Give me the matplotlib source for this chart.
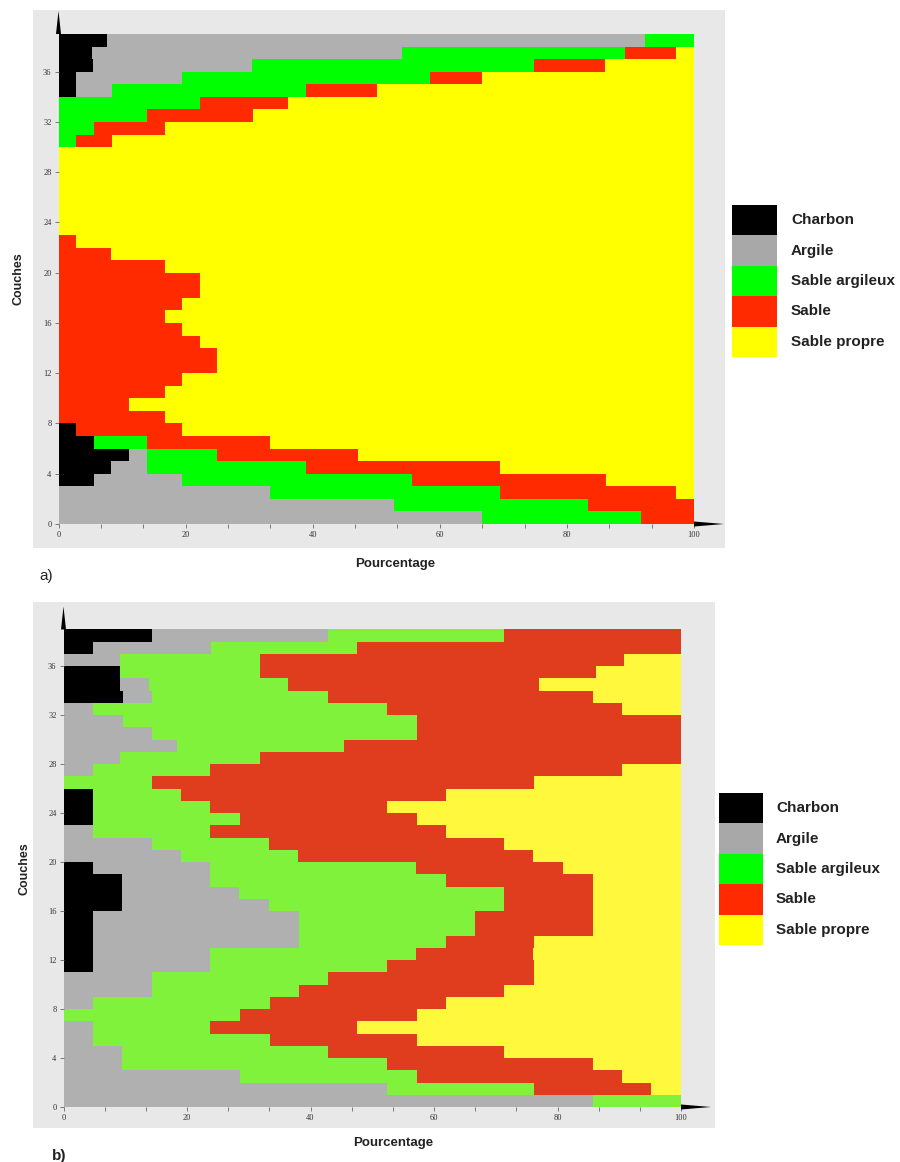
import matplotlib
matplotlib.use("Agg")
import matplotlib.pyplot as plt
from matplotlib.patches import Rectangle, Polygon
from matplotlib.ticker import MultipleLocator

W, H = 900, 1162

layers = list(range(39))
categories = ["Charbon", "Argile", "Sable argileux", "Sable", "Sable propre"]
y_ticks = [0, 4, 8, 12, 16, 20, 24, 28, 32, 36]
x_ticks = [0, 20, 40, 60, 80, 100]

# ---- panel a) : percentages per layer (layer 0 at bottom) ----
a_charbon = [0, 0, 0, 5.6, 8.3, 11.1, 5.6, 2.8,
             0, 0, 0, 0, 0, 0, 0, 0, 0, 0, 0, 0, 0, 0, 0, 0, 0, 0,
             0, 0, 0, 0, 0, 0, 0, 0,
             2.8, 2.8, 5.5, 5.2, 7.6]
a_argile = [66.7, 52.8, 33.3, 13.9, 5.6, 2.8, 0, 0,
            0, 0, 0, 0, 0, 0, 0, 0, 0, 0, 0, 0, 0, 0, 0, 0, 0, 0,
            0, 0, 0, 0, 0, 0, 0, 0,
            5.6, 16.7, 25.0, 48.8, 84.7]
a_sable_arg = [25.0, 30.5, 36.1, 36.1, 25.0, 11.1, 8.3, 0,
               0, 0, 0, 0, 0, 0, 0, 0, 0, 0, 0, 0, 0, 0, 0, 0, 0, 0,
               0, 0, 0, 0, 2.8, 5.6, 13.9, 22.2,
               30.6, 38.9, 44.4, 35.1, 7.7]
a_sable = [8.3, 16.7, 27.8, 30.6, 30.6, 22.2, 19.4, 16.7,
           16.7, 11.1, 16.7, 19.4, 25.0, 25.0, 22.2, 19.4, 16.7, 19.4,
           22.2, 22.2, 16.7, 8.3, 2.8,
           0, 0, 0, 0, 0, 0, 0,
           5.6, 11.1, 16.7, 13.9, 11.1, 8.3, 11.1, 8.1, 0]
a_propre = [0, 0, 2.8, 13.9, 30.6, 52.8, 66.7, 80.6,
            83.3, 88.9, 83.3, 80.6, 75.0, 75.0, 77.8, 80.6, 83.3, 80.6,
            77.8, 77.8, 83.3, 91.7, 97.2,
            100, 100, 100, 100, 100, 100, 100,
            91.7, 83.3, 69.4, 63.9, 50.0, 33.3, 14.0, 2.8, 0]

# ---- panel b) ----
b_charbon = [0, 0, 0, 0, 0, 0, 0, 0, 0, 0, 0,
             4.8, 4.8, 4.8, 4.8, 4.8, 9.5, 9.5, 9.5, 4.8,
             0, 0, 0, 4.8, 4.8, 4.8,
             0, 0, 0, 0, 0, 0, 0,
             9.6, 9.2, 9.2, 0, 4.8, 14.3]
b_argile = [85.7, 52.4, 28.6, 9.5, 9.5, 4.8, 4.8, 0, 4.8, 14.3, 14.3,
            19.0, 19.0, 33.3, 33.3, 33.3, 23.8, 19.0, 14.3, 19.0,
            19.0, 14.3, 4.8, 0, 0, 0,
            0, 4.8, 9.2, 18.3, 14.3, 9.6, 4.8,
            4.7, 4.7, 0, 9.2, 19.1, 28.5]
b_sable_arg = [14.3, 23.8, 28.6, 42.9, 33.3, 28.6, 19.0, 28.6, 28.6, 23.8, 28.6,
               28.6, 33.3, 23.8, 28.6, 28.6, 38.1, 42.9, 38.1, 33.3,
               19.0, 19.0, 19.0, 23.8, 19.0, 14.3,
               14.3, 19.0, 22.7, 27.2, 42.9, 47.6, 47.6,
               28.5, 22.5, 22.7, 22.7, 23.6, 28.6]
b_sable = [0, 19.0, 33.3, 33.3, 28.6, 23.8, 23.8, 28.6, 28.6, 33.3, 33.3,
           23.8, 19.0, 14.3, 19.0, 19.0, 14.3, 14.3, 23.8, 23.8,
           38.1, 38.1, 38.1, 28.6, 28.6, 42.9,
           61.9, 66.7, 68.1, 54.5, 42.8, 42.8, 38.1,
           42.9, 40.6, 54.4, 58.8, 52.5, 28.6]
b_propre = [0, 4.8, 9.5, 14.3, 28.6, 42.9, 52.4, 42.9, 38.1, 28.6, 23.8,
            23.8, 23.9, 23.8, 14.3, 14.3, 14.3, 14.3, 14.3, 19.1,
            23.9, 28.6, 38.1, 42.9, 47.6, 38.1,
            23.8, 9.5, 0, 0, 0, 0, 9.5,
            14.3, 23.0, 13.7, 9.3, 0, 0]

colors_a = ["#000000", "#b0b0b0", "#00ff00", "#ff2a00", "#ffff00"]
colors_b = ["#000000", "#b0b0b0", "#80f23c", "#e03c1e", "#fff83c"]
legend_colors = ["#000000", "#a8a8a8", "#00ff00", "#ff2a00", "#ffff00"]

fig = plt.figure(figsize=(W / 100, H / 100), dpi=100)
fig.patch.set_facecolor("white")


def fx(px):
    return px / W


def fy(py):
    return 1 - py / H


def panel(series, colors, gray_box, ax_box, legend_top, legend_x, text_x,
          couches_x, pourc_xy, tag, tag_pos, tag_bold):
    gx0, gy0, gx1, gy1 = gray_box
    fig.patches.append(Rectangle((fx(gx0), fy(gy1)), fx(gx1) - fx(gx0),
                                 fy(gy0) - fy(gy1), transform=fig.transFigure,
                                 facecolor="#e8e8e8", edgecolor="none", zorder=-10))
    x0, y0, x1, y1 = ax_box
    ax = fig.add_axes([fx(x0), fy(y1), fx(x1) - fx(x0), fy(y0) - fy(y1)])
    ax.set_zorder(1)
    ax.set_facecolor("none")
    left = [0.0] * len(layers)
    for vals, c in zip(series, colors):
        ax.barh(layers, vals, left=left, height=1.0, align="edge", color=c,
                linewidth=0, antialiased=False)
        left = [l + v for l, v in zip(left, vals)]
    ax.set_xlim(0, 100)
    ax.set_ylim(0, 39)
    for s in ax.spines.values():
        s.set_visible(False)
    ax.set_xticks(x_ticks)
    ax.set_yticks(y_ticks)
    ax.xaxis.set_minor_locator(MultipleLocator(20 / 3))
    ax.tick_params(which="both", direction="out", length=3, width=0.6,
                   color="#666666", labelsize=6, labelcolor="#333333", pad=2)
    for lab in ax.get_xticklabels() + ax.get_yticklabels():
        lab.set_fontfamily("Liberation Serif")
    # axis arrows
    fig.patches.append(Polygon([(fx(x0 - 2.5), fy(y0)), (fx(x0 + 2.5), fy(y0)),
                                (fx(x0), fy(y0 - 23))], closed=True,
                               transform=fig.transFigure, facecolor="black",
                               edgecolor="none", zorder=5))
    fig.patches.append(Polygon([(fx(x1), fy(y1 - 2.5)), (fx(x1), fy(y1 + 2.5)),
                                (fx(x1 + 30), fy(y1))], closed=True,
                               transform=fig.transFigure, facecolor="black",
                               edgecolor="none", zorder=5))
    # legend
    sq_h = 30.4
    for i, (name, c) in enumerate(zip(categories, legend_colors)):
        top = legend_top + i * sq_h
        fig.patches.append(Rectangle((fx(legend_x[0]), fy(top + sq_h)),
                                     fx(legend_x[1]) - fx(legend_x[0]),
                                     sq_h / H, transform=fig.transFigure,
                                     facecolor=c, edgecolor="none"))
        fig.text(fx(text_x), fy(top + sq_h / 2), name, fontsize=11,
                 fontweight="bold", family="Liberation Sans", va="center",
                 ha="left", color="#222222")
    fig.text(fx(couches_x), fy((y0 + y1) / 2), "Couches", rotation=90,
             fontsize=9, fontweight="bold", family="Liberation Sans",
             va="center", ha="center", color="#222222")
    fig.text(fx(pourc_xy[0]), fy(pourc_xy[1]), "Pourcentage", fontsize=9.5,
             fontweight="bold", family="Liberation Sans", va="center",
             ha="center", color="#222222")
    fig.text(fx(tag_pos[0]), fy(tag_pos[1]), tag, fontsize=11,
             fontweight="bold" if tag_bold else "normal",
             family="Liberation Sans", va="center", ha="left", color="#222222")
    return ax


panel([a_charbon, a_argile, a_sable_arg, a_sable, a_propre], colors_a,
      (33, 10, 725, 548), (58.5, 34, 694, 524), 205, (732, 777), 791,
      18, (395, 564), "a)", (39, 576), False)
panel([b_charbon, b_argile, b_sable_arg, b_sable, b_propre], colors_b,
      (33, 602, 715, 1128), (63.5, 629.5, 681, 1107), 793, (719, 763), 776,
      24, (393, 1143), "b)", (52, 1156), True)

fig.savefig("out.png", dpi=100, facecolor="white")
